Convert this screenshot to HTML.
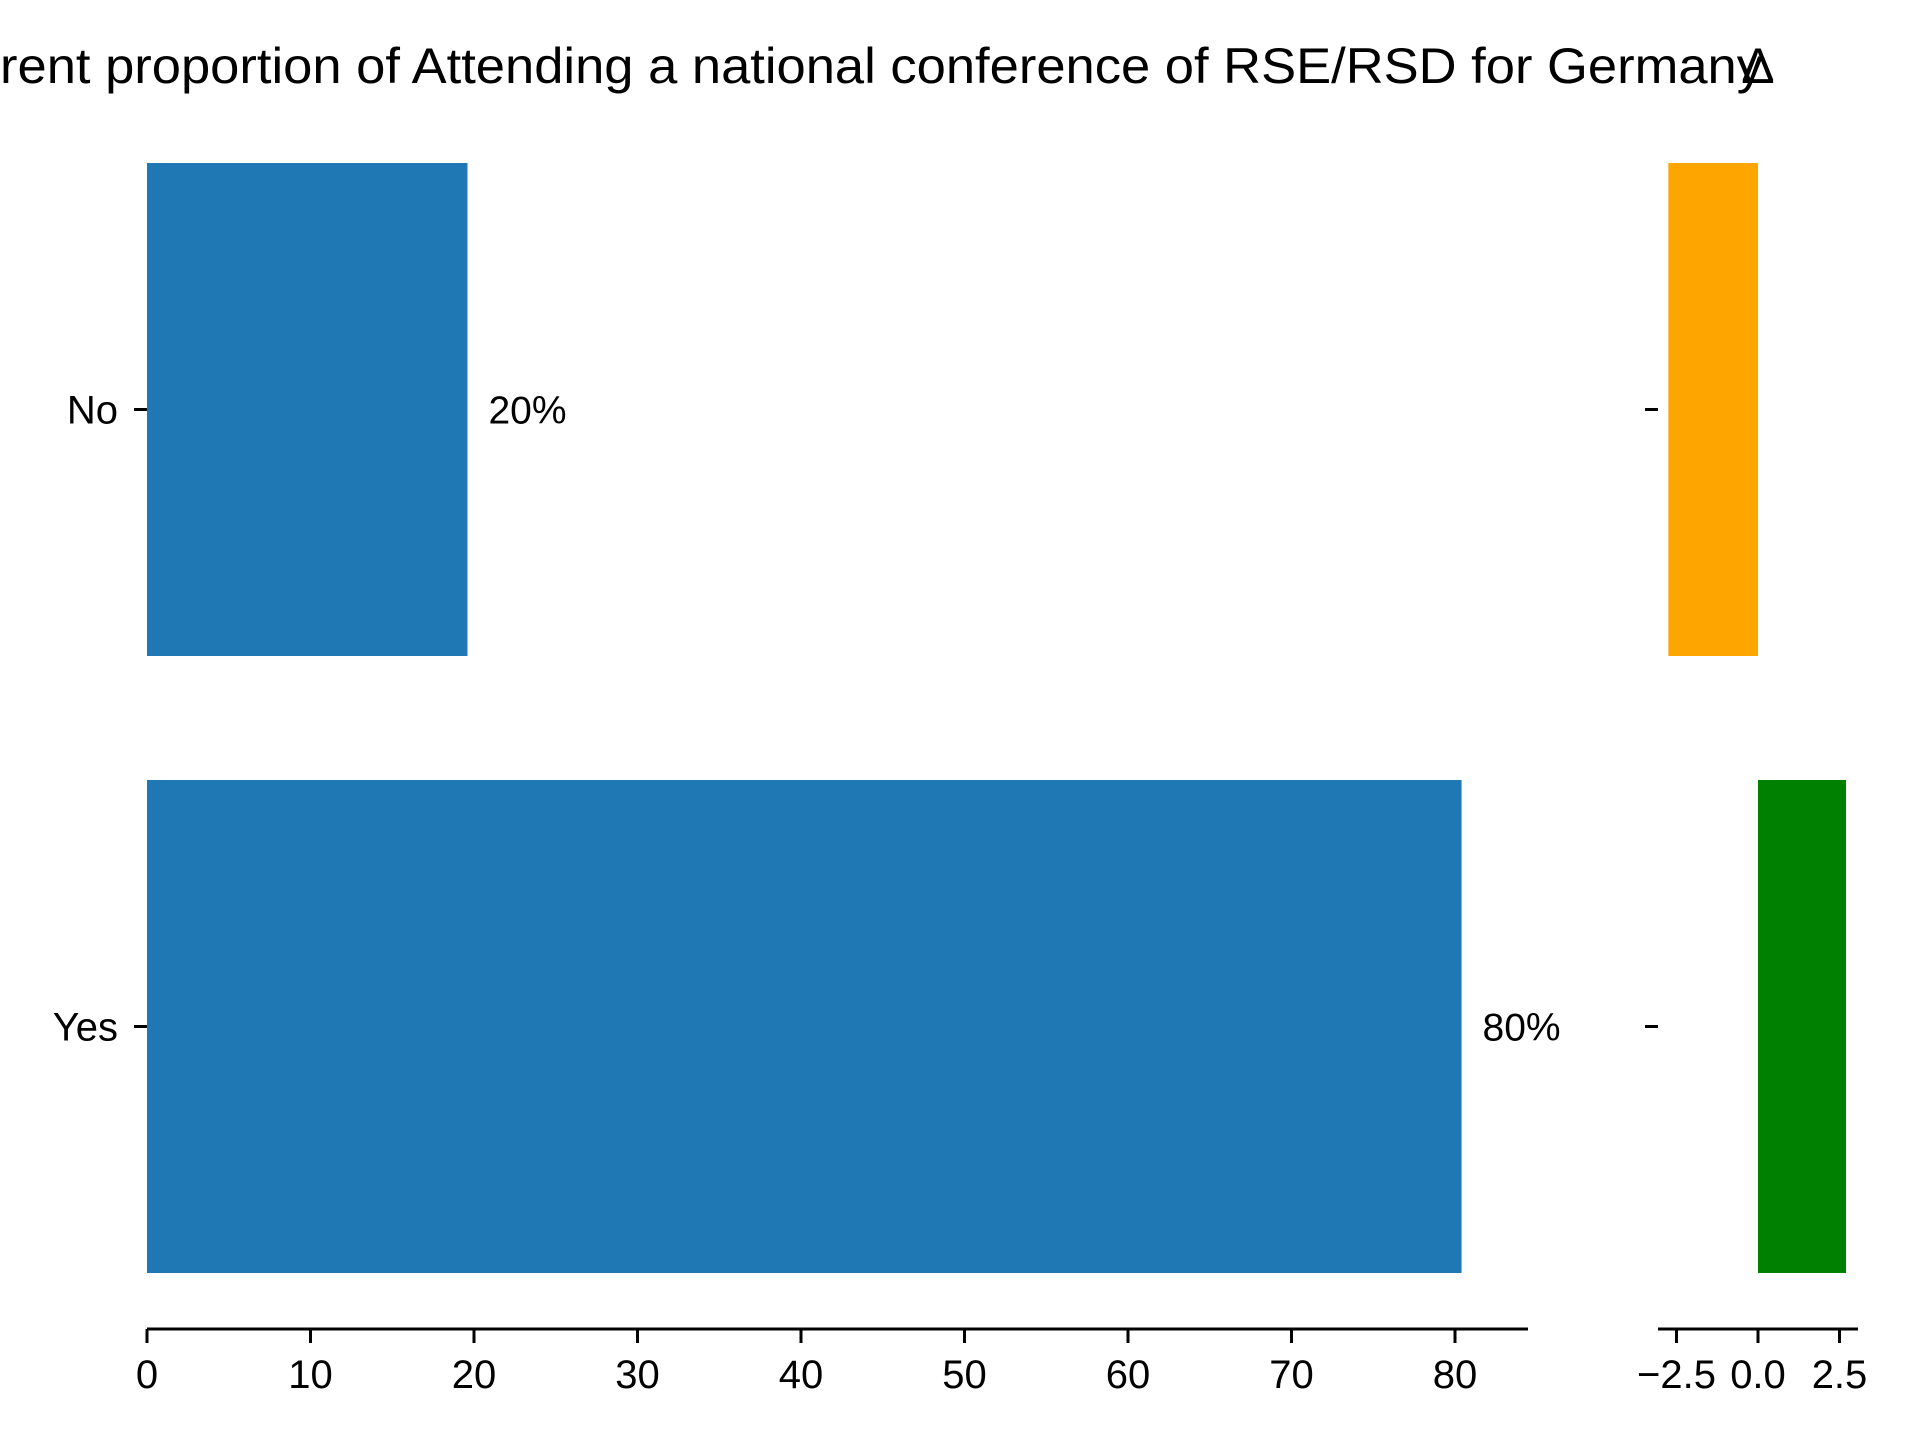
<!DOCTYPE html>
<html><head><meta charset="utf-8"><style>html,body{margin:0;padding:0;background:#fff}svg{display:block}text{font-family:"Liberation Sans",sans-serif;fill:#000}</style></head>
<body>
<svg id="chart" width="1920" height="1440" xmlns="http://www.w3.org/2000/svg">
<text x="0" y="83" font-size="50" textLength="1763" lengthAdjust="spacingAndGlyphs">rent proportion of Attending a national conference of RSE/RSD for Germany</text>
<text x="1758" y="83" font-size="50" text-anchor="middle">Δ</text>
<g id="main"></g>
<g id="delta"></g>
</svg>
<script>
const categories = ["No", "Yes"];
const proportions = [19.6, 80.4];
const valueLabels = ["20%", "80%"];
const deltas = [-2.75, 2.7];
const xTicks = [0, 10, 20, 30, 40, 50, 60, 70, 80];
const dTicks = [-2.5, 0, 2.5];
const dTickLabels = ["\u22122.5", "0.0", "2.5"];

const NS = "http://www.w3.org/2000/svg";
function mk(parent, tag, attrs, txt) {
  const e = document.createElementNS(NS, tag);
  for (const k in attrs) e.setAttribute(k, attrs[k]);
  if (txt !== undefined) e.textContent = txt;
  parent.appendChild(e);
  return e;
}
const bandTop = 163, bandStep = 617, barH = 493;
function yBand(i) { return bandTop + i * bandStep; }
function yCenter(i) { return yBand(i) + barH / 2; }
const x = v => 147 + v * 16.35;
const xd = v => 1758 + v * 32.6;
const axisY = 1329;

const main = document.getElementById('main');
categories.forEach((c, i) => {
  const r = mk(main, 'rect', {x: x(0), y: yBand(i), width: x(proportions[i]) - x(0), height: barH, fill: '#1f77b4'});
  
  
  const t = mk(main, 'text', {x: x(proportions[i]) + 21, y: yCenter(i) + 14, 'font-size': 39}, valueLabels[i]);
  
  
  const tk = mk(main, 'line', {x1: 134, x2: 147, y1: yCenter(i), y2: yCenter(i), stroke: '#000', 'stroke-width': 3});
  
  
  const yl = mk(main, 'text', {x: 118, y: yCenter(i) + 14, 'font-size': 40, 'text-anchor': 'end'}, c);
  
  
  const tk2 = mk(main, 'line', {x1: 1645, x2: 1658, y1: yCenter(i), y2: yCenter(i), stroke: '#000', 'stroke-width': 3});
  
  
});
const ax = mk(main, 'line', {x1: 147, x2: 1528, y1: axisY, y2: axisY, stroke: '#000', 'stroke-width': 3});


xTicks.forEach(v => {
  const l = mk(main, 'line', {x1: x(v), x2: x(v), y1: axisY, y2: axisY + 14, stroke: '#000', 'stroke-width': 3});
  
  
  const t = mk(main, 'text', {x: x(v), y: 1388, 'font-size': 40, 'text-anchor': 'middle'}, String(v));
  
  
});

const delta = document.getElementById('delta');
categories.forEach((c, i) => {
  const v = deltas[i];
  const r = mk(delta, 'rect', {x: Math.min(xd(0), xd(v)), y: yBand(i), width: Math.abs(xd(v) - xd(0)), height: barH, fill: v < 0 ? '#ffa500' : '#008000'});
  
  
});
const dax = mk(delta, 'line', {x1: 1658, x2: 1858, y1: axisY, y2: axisY, stroke: '#000', 'stroke-width': 3});


dTicks.forEach((v, i) => {
  const l = mk(delta, 'line', {x1: xd(v), x2: xd(v), y1: axisY, y2: axisY + 14, stroke: '#000', 'stroke-width': 3});
  
  
  const t = mk(delta, 'text', {x: xd(v), y: 1388, 'font-size': 40, 'text-anchor': 'middle'}, dTickLabels[i]);
  
  
});
</script>
</body></html>
